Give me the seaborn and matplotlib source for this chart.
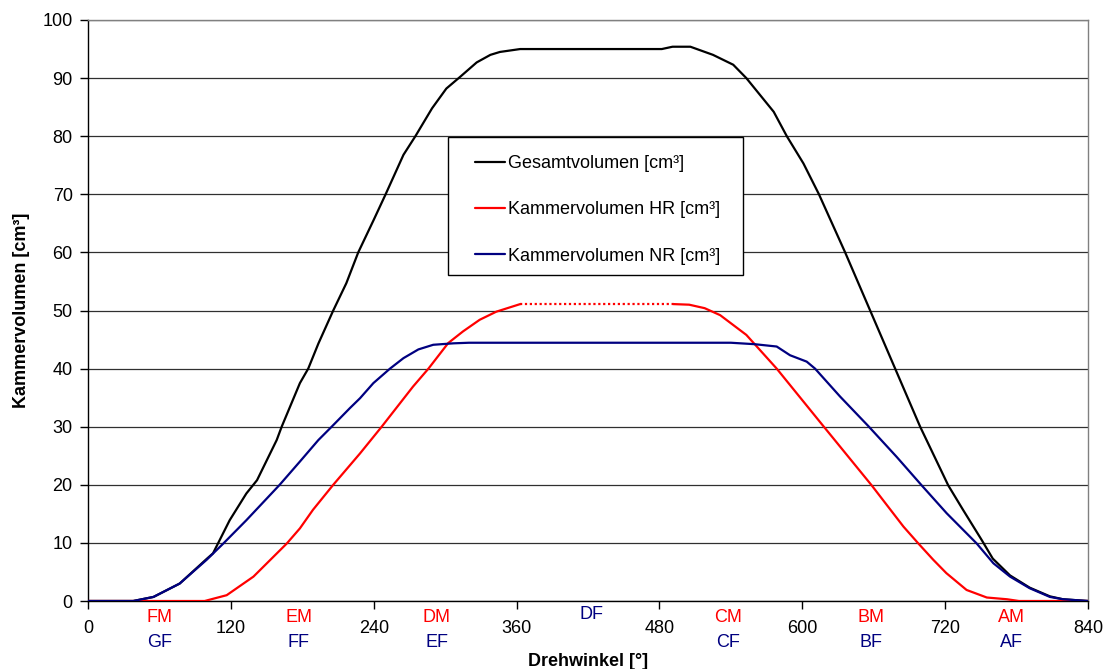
import matplotlib
matplotlib.use("Agg")
import matplotlib.pyplot as plt
import matplotlib.transforms as mtransforms
from matplotlib.patches import Rectangle
import seaborn as sns
import pandas as pd

# ---------------- data ----------------
gesamt_x = [0, 38, 55, 77, 100, 105, 119, 133, 142, 158.5, 162.7, 178, 185, 193.5, 206, 217,
            227, 240, 250, 265, 275, 289, 301, 312.5, 326.5, 338, 346, 363, 482, 491, 506, 525,
            542, 553, 576, 587, 601, 614, 636, 657, 678, 699, 722.6, 735, 750.7, 760, 774.5,
            791, 808, 819, 840]
gesamt_y = [0, 0, 0.7, 3.0, 7.3, 8.2, 13.9, 18.5, 20.8, 27.7, 30, 37.5, 40, 44.3, 50, 54.7,
            60, 65.6, 70, 76.8, 80, 84.8, 88.2, 90.2, 92.7, 94.0, 94.5, 95.0, 95.0, 95.4, 95.4, 94.0,
            92.3, 90, 84.2, 80, 75.3, 70, 60, 50, 40, 30, 19.9, 15.7, 10.5, 7.3, 4.4,
            2.3, 0.8, 0.3, 0]

nr_x = [0, 38, 55, 77, 99.7, 113.7, 133, 161, 178, 193.5, 204.7, 220, 228.5, 239.7, 253.7, 265,
        277.5, 290, 307, 320, 540, 560, 578.5, 589.7, 603.7, 610.7, 631.7, 655.5, 679.3, 700.3,
        721.3, 746.5, 760.5, 774.5, 791, 808, 819, 840]
nr_y = [0, 0, 0.7, 3.0, 7.1, 9.9, 13.9, 20, 24, 27.7, 30, 33.2, 34.9, 37.5, 40, 41.8,
        43.3, 44.1, 44.35, 44.45, 44.45, 44.2, 43.8, 42.3, 41.2, 40, 35.2, 30.1, 24.8, 19.9,
        15.1, 9.9, 6.5, 4.2, 2.2, 0.7, 0.3, 0]

hr_rise_x = [0, 98, 116.5, 139, 167, 178, 189, 206, 228.5, 246.7, 273, 286, 302.6, 315, 329, 343, 363]
hr_rise_y = [0, 0, 1.0, 4.2, 9.9, 12.5, 15.7, 20, 25.4, 30, 36.9, 40, 44.4, 46.4, 48.4, 49.8, 51.1]
hr_gap_x = [363, 492]
hr_gap_y = [51.1, 51.1]
hr_fall_x = [492, 505, 518, 531, 553, 578.5, 617.7, 658.3, 685, 697.5, 710, 721, 738, 755, 772, 782, 840]
hr_fall_y = [51.1, 51.0, 50.4, 49.2, 45.8, 40, 30.1, 19.9, 12.8, 9.9, 7.1, 4.8, 1.9, 0.6, 0.3, 0, 0]

x_ticks = [0, 120, 240, 360, 480, 600, 720, 840]
y_ticks = list(range(0, 101, 10))

upper_labels = ["FM", "EM", "DM", "DF", "CM", "BM", "AM"]
upper_pos = [60, 177, 293, 423, 538, 658, 776]
upper_colors = ["red", "red", "red", "navy", "red", "red", "red"]
lower_labels = ["GF", "FF", "EF", "CF", "BF", "AF"]
lower_pos = [60, 177, 293, 538, 658, 776]

series_names = ["Gesamtvolumen [cm³]", "Kammervolumen HR [cm³]", "Kammervolumen NR [cm³]"]

# ---------------- style ----------------
sns.set_theme(style="white")
plt.rcParams["font.family"] = ["Liberation Sans", "DejaVu Sans"]
FS = 13
plt.rcParams.update({"font.size": FS, "text.color": "black", "axes.labelcolor": "black",
                     "xtick.color": "black", "ytick.color": "black"})

W, H = 1109, 669
fig = plt.figure(figsize=(W / 100, H / 100), dpi=100)
ax = fig.add_axes([88 / W, 1 - 601 / H, 1000 / W, 581 / H])

BLACK, RED, BLUE = "#000000", "#FF0000", "#000080"
LW = 1.6

df_g = pd.DataFrame({"x": gesamt_x, "y": gesamt_y})
df_nr = pd.DataFrame({"x": nr_x, "y": nr_y})
df_hr1 = pd.DataFrame({"x": hr_rise_x, "y": hr_rise_y})
df_hr2 = pd.DataFrame({"x": hr_gap_x, "y": hr_gap_y})
df_hr3 = pd.DataFrame({"x": hr_fall_x, "y": hr_fall_y})

sns.lineplot(data=df_g, x="x", y="y", ax=ax, color=BLACK, lw=LW, sort=False,
             estimator=None, label=series_names[0], zorder=3)
sns.lineplot(data=df_hr1, x="x", y="y", ax=ax, color=RED, lw=LW, sort=False,
             estimator=None, label=series_names[1], zorder=4)
sns.lineplot(data=df_hr2, x="x", y="y", ax=ax, color=RED, lw=LW, sort=False,
             estimator=None, linestyle=(0, (1, 1.2)), zorder=4)
sns.lineplot(data=df_hr3, x="x", y="y", ax=ax, color=RED, lw=LW, sort=False,
             estimator=None, zorder=4)
sns.lineplot(data=df_nr, x="x", y="y", ax=ax, color=BLUE, lw=LW, sort=False,
             estimator=None, label=series_names[2], zorder=5)

ax.set_xlim(0, 840)
ax.set_ylim(0, 100)
ax.set_xticks(x_ticks)
ax.set_yticks(y_ticks)
ax.set_xticklabels([str(t) for t in x_ticks], fontsize=FS)
ax.set_yticklabels([str(t) for t in y_ticks], fontsize=FS)
ax.tick_params(axis="x", direction="out", length=6, width=1, color="black", pad=8, bottom=True)
ax.tick_params(axis="y", direction="out", length=6, width=1, color="black", pad=5, left=True)

ax.yaxis.grid(True, color="#303030", lw=0.9)
ax.xaxis.grid(False)
ax.set_axisbelow(True)

for side in ["left", "bottom"]:
    ax.spines[side].set_color("black")
    ax.spines[side].set_linewidth(1.0)
for side in ["right", "top"]:
    ax.spines[side].set_color("#808080")
    ax.spines[side].set_linewidth(1.0)

ax.set_xlabel("Drehwinkel [°]", fontsize=FS, fontweight="bold")
ax.set_ylabel("Kammervolumen [cm³]", fontsize=FS, fontweight="bold")
ax.xaxis.set_label_coords(0.5, -0.089)
ax.yaxis.set_label_coords(-0.058, 0.5)

trans = mtransforms.blended_transform_factory(ax.transData, ax.transAxes)
for lab, pos, col in zip(upper_labels, upper_pos, upper_colors):
    yv = -0.024 if lab == "DF" else -0.029
    ax.text(pos, yv, lab, transform=trans, color=col, ha="center", va="center", fontsize=FS)
for lab, pos in zip(lower_labels, lower_pos):
    ax.text(pos, -0.072, lab, transform=trans, color=BLUE, ha="center", va="center", fontsize=FS)

# legend box (white, black border) drawn as a patch; legend entries placed inside
box = Rectangle((0.36, 0.5611), 0.295, 0.2375, transform=ax.transAxes, facecolor="white",
                edgecolor="black", lw=1.0, zorder=6)
ax.add_patch(box)
leg = ax.legend(loc="upper left", bbox_to_anchor=(0.387, 0.7674), frameon=False,
                fontsize=FS, handlelength=1.65, handletextpad=0.2,
                labelspacing=1.62, borderpad=0, borderaxespad=0)
leg.set_zorder(7)
for t in leg.get_texts():
    t.set_color("black")

fig.savefig("out.png", dpi=100)
